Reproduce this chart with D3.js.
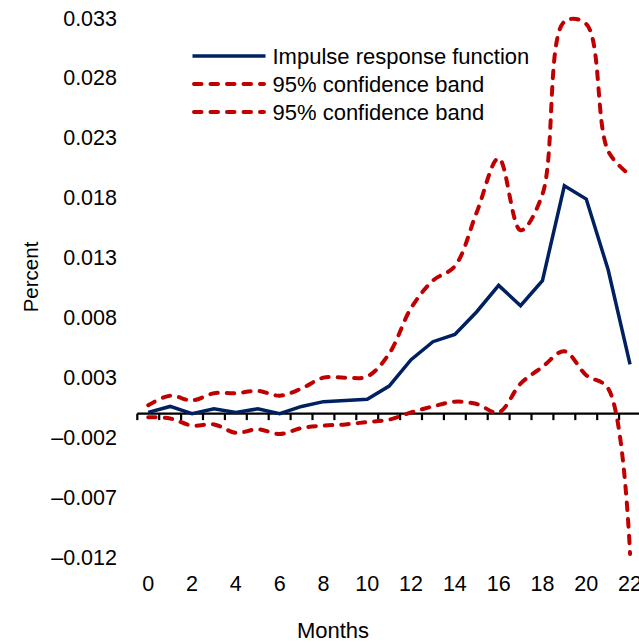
<!DOCTYPE html>
<html>
<head>
<meta charset="utf-8">
<script src="https://cdn.jsdelivr.net/npm/d3@7"></script>
<style>
  html, body { margin: 0; padding: 0; background: #fff; }
  svg { display: block; font-family: "Liberation Sans", Arial, sans-serif; }
</style>
</head>
<body>
<div id="chart"></div>
<script>
// Impulse response of the shock, in percent, with its 95% confidence band
const months = [0, 1, 2, 3, 4, 5, 6, 7, 8, 9, 10, 11, 12, 13, 14, 15, 16, 17, 18, 19, 20, 21, 22];
const irf = [0.0001, 0.0006, 0.0000, 0.0004, 0.0001, 0.0004, 0.0000, 0.0006, 0.0010, 0.0011, 0.0012, 0.0023,
             0.0045, 0.0060, 0.0066, 0.0085, 0.0107, 0.0090, 0.0111, 0.0190, 0.0179, 0.0120, 0.0041];
const upperBand = [0.0007, 0.0015, 0.0011, 0.0017, 0.0017, 0.0019, 0.0015, 0.0021, 0.0030, 0.0030, 0.0031, 0.0050,
                   0.0088, 0.0111, 0.0123, 0.0168, 0.0213, 0.0153, 0.0183, 0.0327, 0.0325, 0.0219, 0.0199];
const lowerBand = [-0.0003, -0.0004, -0.0010, -0.0009, -0.0016, -0.0013, -0.0017, -0.0012, -0.0010, -0.0009, -0.0007, -0.0005,
                   0.0001, 0.0006, 0.0010, 0.0008, 0.0001, 0.0025, 0.0039, 0.0052, 0.0032, 0.0021, -0.0117];
const yTicks = [-0.012, -0.007, -0.002, 0.003, 0.008, 0.013, 0.018, 0.023, 0.028, 0.033];
const yTickLabels = ["\u20130.012", "\u20130.007", "\u20130.002", "0.003", "0.008", "0.013", "0.018", "0.023", "0.028", "0.033"];
const xTickLabels = [0, 2, 4, 6, 8, 10, 12, 14, 16, 18, 20, 22];
const seriesNames = ["Impulse response function", "95% confidence band", "95% confidence band"];

const W = 639, H = 643;
const NAVY = "#002060", RED = "#C00000";
const DASH = "7.5,9";

const svg = d3.select("#chart").append("svg").attr("width", W).attr("height", H);

const x = d3.scaleBand().domain(months).range([137.3, 137.3 + 23 * 21.9]).paddingInner(0).paddingOuter(0);
const y = d3.scaleLinear().domain([-0.012, 0.033]).range([557.5, 18]);
const cx = m => x(m) + x.bandwidth() / 2;

// Value axis: labels only
svg.append("g").selectAll("text")
  .data(yTicks)
  .join("text")
  .attr("x", 117)
  .attr("y", d => y(d))
  .attr("dy", "0.35em")
  .attr("text-anchor", "end")
  .attr("font-size", 21.5)
  .attr("fill", "#000")
  .text((d, i) => yTickLabels[i]);

// Category axis crossing at zero, ticks between months
const xAxis = svg.append("g").attr("transform", `translate(0,${y(0)})`);
xAxis.append("line")
  .attr("x1", x.range()[0]).attr("x2", x.range()[1])
  .attr("stroke", "#000").attr("stroke-width", 2.2);
const boundaries = months.map(m => x(m)).concat([x.range()[1]]);
xAxis.selectAll("line.tick")
  .data(boundaries)
  .join("line")
  .attr("class", "tick")
  .attr("x1", d => d).attr("x2", d => d)
  .attr("y1", 0).attr("y2", 6.5)
  .attr("stroke", "#000").attr("stroke-width", 2.2);

svg.append("g").selectAll("text")
  .data(xTickLabels)
  .join("text")
  .attr("x", d => cx(d))
  .attr("y", 591)
  .attr("text-anchor", "middle")
  .attr("font-size", 21.5)
  .attr("fill", "#000")
  .text(d => d);

// Axis titles
svg.append("text")
  .attr("x", 333).attr("y", 638)
  .attr("text-anchor", "middle")
  .attr("font-size", 22)
  .text("Months");
svg.append("text")
  .attr("transform", "translate(38,277) rotate(-90)")
  .attr("text-anchor", "middle")
  .attr("font-size", 20.5)
  .text("Percent");

// Series
const straight = d3.line().x((d, i) => cx(months[i])).y(d => y(d));
const smooth = d3.line().x((d, i) => cx(months[i])).y(d => y(d)).curve(d3.curveCatmullRom.alpha(0.5));

[upperBand, lowerBand].forEach(band => {
  svg.append("path")
    .datum(band)
    .attr("d", smooth)
    .attr("fill", "none")
    .attr("stroke", RED)
    .attr("stroke-width", 4)
    .attr("stroke-dasharray", DASH)
    .attr("stroke-linecap", "round");
});

svg.append("path")
  .datum(irf)
  .attr("d", straight)
  .attr("fill", "none")
  .attr("stroke", NAVY)
  .attr("stroke-width", 3.5)
  .attr("stroke-linejoin", "miter");

// Legend
const legend = svg.append("g");
const rows = [
  { name: seriesNames[0], color: NAVY, dash: null, y: 56 },
  { name: seriesNames[1], color: RED, dash: DASH, y: 84 },
  { name: seriesNames[2], color: RED, dash: DASH, y: 112 }
];
rows.forEach(r => {
  const ln = legend.append("line")
    .attr("x1", r.dash ? 194 : 192.5).attr("x2", r.dash ? 264 : 265.5)
    .attr("y1", r.y).attr("y2", r.y)
    .attr("stroke", r.color)
    .attr("stroke-width", r.dash ? 4 : 3.5);
  if (r.dash) ln.attr("stroke-dasharray", r.dash).attr("stroke-linecap", "round");
  legend.append("text")
    .attr("x", 272.5).attr("y", r.y)
    .attr("dy", "0.35em")
    .attr("font-size", 22)
    .text(r.name);
});
</script>
</body>
</html>
